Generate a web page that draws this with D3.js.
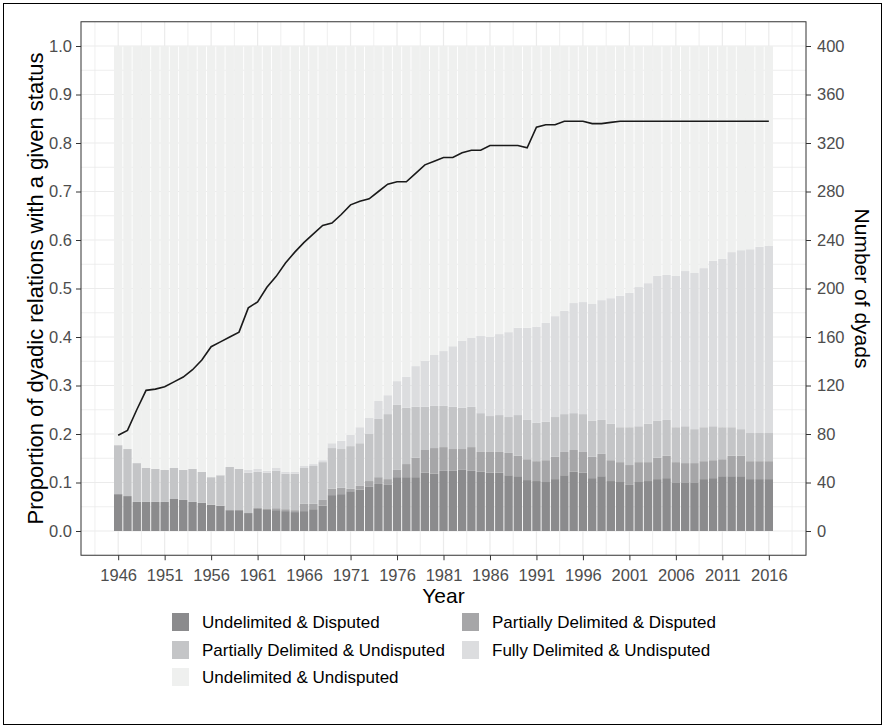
<!DOCTYPE html>
<html>
<head>
<meta charset="utf-8">
<script src="https://cdn.jsdelivr.net/npm/d3@7"></script>
<style>
  body { margin: 0; background: #fff; }
  svg { display: block; font-family: "Liberation Sans", Arial, Helvetica, sans-serif; }
  .tick text { fill: #4d4d4d; font-size: 16.5px; }
  .tick line { stroke: #333; }
</style>
</head>
<body>
<svg id="chart" width="885" height="728"></svg>
<script>
// years on the x axis
const years = d3.range(1946, 2017);

// share of dyads in each status, per year
const undelimDisputed = [
  .076,.072,.060,.060,.060,.060,.066,.064,.060,.058,
  .054,.052,.043,.043,.037,.047,.045,.043,.041,.039,
  .041,.045,.052,.074,.076,.082,.085,.091,.097,.095,
  .111,.111,.111,.120,.118,.124,.124,.126,.124,.122,
  .120,.120,.115,.113,.105,.103,.101,.107,.115,.122,
  .120,.109,.113,.103,.101,.095,.101,.103,.107,.109,
  .099,.099,.099,.107,.109,.113,.113,.113,.107,.107,
  .107];
const partialDisputed = [
  0,0,0,0,0,0,0,0,0,0,
  0,0,0,0,0,0,0,.004,.004,.004,
  .015,.011,.012,.013,.013,.005,.008,.012,.014,.012,
  .015,.027,.040,.047,.053,.049,.045,.043,.049,.041,
  .043,.043,.046,.042,.043,.041,.045,.046,.048,.045,
  .043,.044,.046,.043,.041,.041,.041,.039,.044,.046,
  .043,.041,.041,.037,.037,.035,.042,.042,.037,.037,
  .037];
const partialUndisputed = [
  .101,.097,.080,.070,.068,.066,.064,.062,.068,.064,
  .057,.063,.089,.085,.083,.075,.075,.077,.073,.075,
  .074,.078,.078,.084,.080,.088,.088,.097,.120,.134,
  .134,.116,.105,.089,.087,.085,.087,.085,.083,.080,
  .074,.076,.074,.084,.081,.079,.079,.082,.078,.076,
  .078,.074,.070,.075,.072,.078,.074,.079,.076,.074,
  .072,.076,.070,.070,.070,.066,.059,.055,.058,.058,
  .058];
const fullyUndisputed = [
  0,0,0,0,0,0,0,0,0,0,
  0,0,0,0,.006,.006,.004,.006,.004,.004,
  .004,.004,.004,.010,.017,.023,.033,.033,.037,.039,
  .049,.064,.084,.095,.105,.113,.125,.138,.142,.159,
  .163,.167,.175,.180,.190,.198,.204,.208,.213,.227,
  .231,.241,.247,.259,.271,.277,.287,.290,.299,.299,
  .312,.320,.322,.328,.341,.347,.361,.369,.379,.384,
  .386];
const undelimUndisputed = [
  .823,.831,.860,.870,.872,.874,.870,.874,.872,.878,
  .889,.885,.868,.872,.874,.872,.876,.870,.878,.878,
  .866,.862,.854,.819,.814,.802,.786,.767,.732,.720,
  .691,.682,.660,.649,.637,.629,.619,.608,.602,.598,
  .600,.594,.590,.581,.581,.579,.571,.557,.546,.530,
  .528,.532,.524,.520,.515,.509,.497,.489,.474,.472,
  .474,.464,.468,.458,.443,.439,.425,.421,.419,.414,
  .412];

// number of dyads (line, right axis)
const dyads = [
  79,83,100,116,117,119,123,127,133,141,
  152,156,160,164,184,189,201,210,221,230,
  238,245,252,254,261,269,272,274,280,286,
  288,288,295,302,305,308,308,312,314,314,
  318,318,318,318,316,333,335,335,338,338,
  338,336,336,337,338,338,338,338,338,338,
  338,338,338,338,338,338,338,338,338,338,
  338];

const statusNames = ["Undelimited & Disputed", "Partially Delimited & Disputed",
  "Partially Delimited & Undisputed", "Fully Delimited & Undisputed", "Undelimited & Undisputed"];
const statusColors = ["#8b8b8d", "#a6a6a8", "#c4c5c7", "#dcdddf", "#eff0ef"];
const xTicks = d3.range(1946, 2017, 5);
const yTicks = d3.range(0, 11).map(d => d / 10);
const y2Ticks = d3.range(0, 401, 40);

let rows = years.map((yr, i) => ({
  year: yr,
  [statusNames[0]]: undelimDisputed[i],
  [statusNames[1]]: partialDisputed[i],
  [statusNames[2]]: partialUndisputed[i],
  [statusNames[3]]: fullyUndisputed[i],
  [statusNames[4]]: undelimUndisputed[i]
}));

let svg = d3.select("#chart");
let pLeft = 81, pRight = 806, pTop = 21.75, pBottom = 555.25;

let x = d3.scaleLinear().domain([1942, 2020]).range([pLeft, pRight]);
let y = d3.scaleLinear().domain([-0.05, 1.05]).range([pBottom, pTop]);
let y2 = d3.scaleLinear().domain([-20, 420]).range([pBottom, pTop]);
let color = d3.scaleOrdinal().domain(statusNames).range(statusColors);

// outer frame
svg.append("rect")
    .attr("x", 3.5).attr("y", 3.5).attr("width", 878).attr("height", 721)
    .attr("fill", "none").attr("stroke", "#000").attr("stroke-width", 1);

// grid
let grid = svg.append("g").attr("stroke", "#ebebeb");
let xMinor = d3.range(1943.5, 2020, 5);
let yMinor = d3.range(0, 10).map(d => d / 10 + 0.05);
grid.selectAll(".vminor").data(xMinor).enter().append("line")
    .attr("x1", d => x(d)).attr("x2", d => x(d)).attr("y1", pTop).attr("y2", pBottom)
    .attr("stroke-width", 0.8);
grid.selectAll(".hminor").data(yMinor).enter().append("line")
    .attr("y1", d => y(d)).attr("y2", d => y(d)).attr("x1", pLeft).attr("x2", pRight)
    .attr("stroke-width", 0.8);
grid.selectAll(".vmajor").data(xTicks).enter().append("line")
    .attr("x1", d => x(d)).attr("x2", d => x(d)).attr("y1", pTop).attr("y2", pBottom)
    .attr("stroke-width", 1.2);
grid.selectAll(".hmajor").data(yTicks).enter().append("line")
    .attr("y1", d => y(d)).attr("y2", d => y(d)).attr("x1", pLeft).attr("x2", pRight)
    .attr("stroke-width", 1.2);

// stacked bars
let stack = d3.stack().keys(statusNames).offset(d3.stackOffsetExpand);
let series = stack(rows);
let bw = (x(1947) - x(1946)) * 0.9;

svg.append("g").selectAll("g")
    .data(series).enter().append("g")
    .attr("fill", d => color(d.key))
    .selectAll("rect")
    .data(d => d).enter().append("rect")
    .attr("x", d => x(d.data.year) - bw / 2)
    .attr("width", bw)
    .attr("y", d => y(d[1]))
    .attr("height", d => y(d[0]) - y(d[1]));

// dyads line
let line = d3.line()
    .x((d, i) => x(years[i]))
    .y(d => y2(d));
svg.append("path")
    .datum(dyads)
    .attr("d", line)
    .attr("fill", "none")
    .attr("stroke", "#1a1a1a")
    .attr("stroke-width", 1.6);

// panel border
svg.append("rect")
    .attr("x", pLeft).attr("y", pTop).attr("width", pRight - pLeft).attr("height", pBottom - pTop)
    .attr("fill", "none").attr("stroke", "#333").attr("stroke-width", 1);

// axes
let gx = svg.append("g").attr("transform", `translate(0,${pBottom})`)
    .call(d3.axisBottom(x).tickValues(xTicks).tickFormat(d3.format("d")).tickSize(5).tickPadding(9));
let gy = svg.append("g").attr("transform", `translate(${pLeft},0)`)
    .call(d3.axisLeft(y).tickValues(yTicks).tickFormat(d3.format(".1f")).tickSize(5).tickPadding(4));
let gy2 = svg.append("g").attr("transform", `translate(${pRight},0)`)
    .call(d3.axisRight(y2).tickValues(y2Ticks).tickSize(5).tickPadding(6));
[gx, gy, gy2].forEach(g => {
    g.select(".domain").remove();
    g.selectAll("text").attr("font-family", null).attr("font-size", null);
});

// axis titles
svg.append("text")
    .attr("x", (pLeft + pRight) / 2).attr("y", 603)
    .attr("text-anchor", "middle").attr("font-size", 21).attr("fill", "#000")
    .text("Year");
svg.append("text")
    .attr("transform", `translate(43,${(pTop + pBottom) / 2}) rotate(-90)`)
    .attr("text-anchor", "middle").attr("font-size", 22).attr("fill", "#000")
    .text("Proportion of dyadic relations with a given status");
svg.append("text")
    .attr("transform", `translate(855,${(pTop + pBottom) / 2}) rotate(90)`)
    .attr("text-anchor", "middle").attr("font-size", 21).attr("fill", "#000")
    .text("Number of dyads");

// legend
let legendPos = [[172, 622], [462, 622], [172, 650], [462, 650], [172, 677]];
let legend = svg.append("g").selectAll("g")
    .data(statusNames).enter().append("g")
    .attr("transform", (d, i) => `translate(${legendPos[i][0]},${legendPos[i][1]})`);
legend.append("rect")
    .attr("x", 0).attr("y", -9).attr("width", 17).attr("height", 18)
    .attr("fill", d => color(d));
legend.append("text")
    .attr("x", 30).attr("y", 5.5)
    .attr("font-size", 17).attr("fill", "#000")
    .text(d => d);
</script>
</body>
</html>
